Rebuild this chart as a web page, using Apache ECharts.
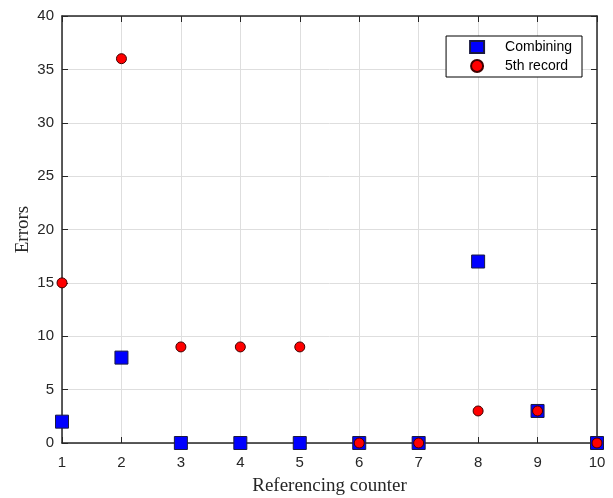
<!DOCTYPE html>
<html>
<head>
<meta charset="utf-8">
<script src="https://cdn.jsdelivr.net/npm/echarts@6/dist/echarts.min.js"></script>
<style>
html, body { margin: 0; padding: 0; background: #fff; }
#main { width: 613px; height: 498px; }
</style>
</head>
<body>
<div id="main"></div>
<script>
// counter positions and error values
var counters = [1, 2, 3, 4, 5, 6, 7, 8, 9, 10];
var combining = [2, 8, 0, 0, 0, 0, 0, 17, 3, 0];
var fifthRecord = [15, 36, 9, 9, 9, 0, 0, 3, 3, 0];

function pairs(xs, ys) {
    var out = [];
    for (var i = 0; i < xs.length; i++) {
        out.push([xs[i], ys[i]]);
    }
    return out;
}

var axisCol = '#262626';
var gridCol = '#dedede';
var tickFont = { fontFamily: 'Liberation Sans', fontSize: 15, color: '#262626' };

var myChart = echarts.init(document.getElementById('main'));
var option = {
    backgroundColor: '#fff',
    animation: false,
    grid: { left: 62, right: 16, top: 16, bottom: 55, outerBoundsMode: 'none' },
    legend: {
        orient: 'vertical',
        right: 31,
        top: 36,
        backgroundColor: '#fff',
        borderColor: '#000',
        borderWidth: 1,
        padding: [4, 10, 4, 23],
        itemGap: 5,
        itemWidth: 14,
        itemHeight: 12,
        textStyle: { fontFamily: 'Liberation Sans', fontSize: 14, color: '#000', padding: [0, 0, 0, 16] },
        data: [
            { name: 'Combining', icon: 'rect' },
            { name: '5th record', icon: 'circle' }
        ]
    },
    xAxis: [
        {
            type: 'value', min: 1, max: 10, interval: 1,
            name: 'Referencing counter', nameLocation: 'middle', nameGap: 34, nameMoveOverlap: false,
            nameTextStyle: { fontFamily: 'Liberation Serif', fontSize: 19, color: '#262626' },
            axisLine: { show: true, lineStyle: { color: axisCol, width: 1.5 } },
            axisTick: { show: true, inside: true, length: 6, lineStyle: { color: axisCol } },
            axisLabel: Object.assign({ margin: 12 }, tickFont),
            splitLine: { show: true, lineStyle: { color: gridCol, width: 1 } }
        },
        {
            type: 'value', min: 1, max: 10, interval: 1, position: 'top',
            axisLine: { show: true, onZero: false, lineStyle: { color: axisCol, width: 1.5 } },
            axisTick: { show: true, inside: true, length: 6, lineStyle: { color: axisCol } },
            axisLabel: { show: false },
            splitLine: { show: false }
        }
    ],
    yAxis: [
        {
            type: 'value', min: 0, max: 40, interval: 5,
            name: 'Errors', nameLocation: 'middle', nameGap: 29, nameMoveOverlap: false,
            nameTextStyle: { fontFamily: 'Liberation Serif', fontSize: 19, color: '#262626' },
            axisLine: { show: true, lineStyle: { color: axisCol, width: 1.5 } },
            axisTick: { show: true, inside: true, length: 6, lineStyle: { color: axisCol } },
            axisLabel: Object.assign({ margin: 8 }, tickFont),
            splitLine: { show: true, lineStyle: { color: gridCol, width: 1 } }
        },
        {
            type: 'value', min: 0, max: 40, interval: 5, position: 'right',
            axisLine: { show: true, onZero: false, lineStyle: { color: axisCol, width: 1.5 } },
            axisTick: { show: true, inside: true, length: 6, lineStyle: { color: axisCol } },
            axisLabel: { show: false },
            splitLine: { show: false }
        }
    ],
    series: [
        {
            name: 'Combining',
            type: 'scatter',
            symbol: 'rect',
            symbolSize: 13,
            clip: false,
            itemStyle: { color: '#0000ff', borderColor: '#1a1a40', borderWidth: 1, opacity: 1 },
            data: pairs(counters, combining)
        },
        {
            name: '5th record',
            type: 'scatter',
            symbol: 'circle',
            symbolSize: 10,
            clip: false,
            itemStyle: { color: '#ff0000', borderColor: '#400000', borderWidth: 1, opacity: 1 },
            data: pairs(counters, fifthRecord)
        }
    ]
};
myChart.setOption(option);
</script>
</body>
</html>
